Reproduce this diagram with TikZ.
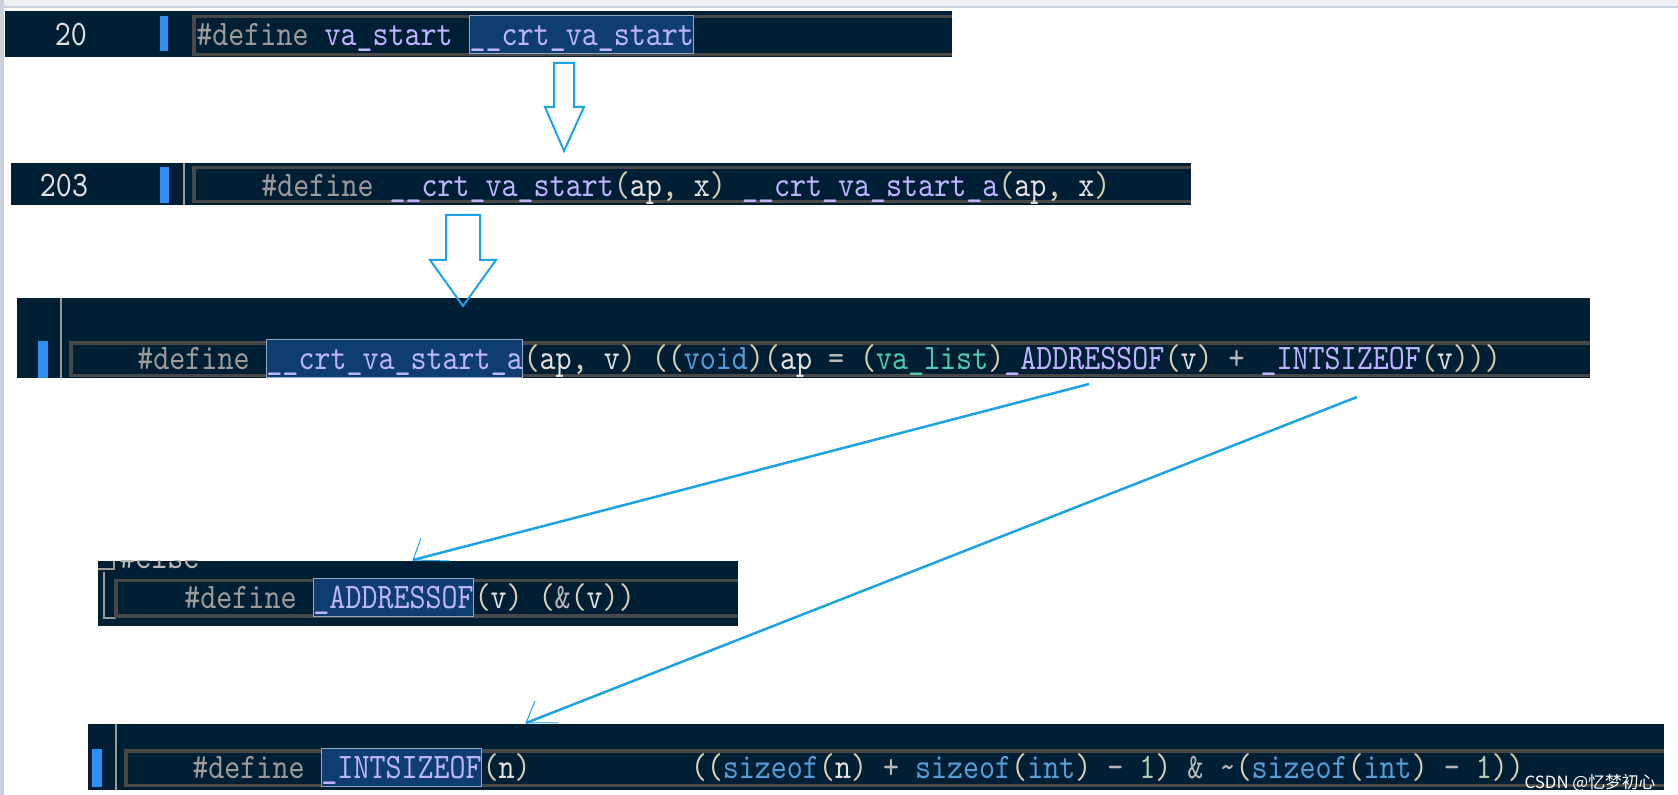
\documentclass[tikz,border=0pt]{standalone}
\usepackage{fontspec}
\newfontfamily\codefont[FakeStretch=0.85]{lmmono10-regular.otf}
\newfontfamily\cjk{Noto Sans CJK SC}
\definecolor{barbg}{HTML}{001F35}
\definecolor{framegray}{HTML}{484848}
\definecolor{vgray}{HTML}{9A9A9A}
\definecolor{markblue}{HTML}{2E8FF0}
\definecolor{hlfill}{HTML}{0F3D70}
\definecolor{hlborder}{HTML}{92A9C8}
\definecolor{defgray}{HTML}{9B9B9B}
\definecolor{macpurple}{HTML}{BDB5FF}
\definecolor{kwblue}{HTML}{569CD6}
\definecolor{typeteal}{HTML}{4EC9B0}
\definecolor{numgreen}{HTML}{B5CEA8}
\definecolor{punbeige}{HTML}{D6CFB4}
\definecolor{idwhite}{HTML}{E2E2E2}
\definecolor{opgray}{HTML}{B8B8B8}
\definecolor{linkblue}{HTML}{1BA3E6}
\definecolor{topband}{HTML}{EEF0F3}
\definecolor{topline}{HTML}{C9D1DE}
\newcommand\tokdef[1]{\textcolor{defgray}{#1}}
\newcommand\tokmac[1]{\textcolor{macpurple}{#1}}
\newcommand\tokkw[1]{\textcolor{kwblue}{#1}}
\newcommand\toktype[1]{\textcolor{typeteal}{#1}}
\newcommand\toknum[1]{\textcolor{numgreen}{#1}}
\newcommand\tokid[1]{\textcolor{idwhite}{#1}}
\newcommand\tokop[1]{\textcolor{opgray}{#1}}
\newcommand\codesize{\codefont\fontsize{17.95pt}{20pt}\selectfont\frenchspacing}
\newlength\chw
\begin{document}
\settowidth\chw{\codesize 0}
\begin{tikzpicture}
[x=0.5pt, y=-0.5pt,
bar/.style={fill=barbg},
frame/.style={draw=framegray, line width=1.75pt},
vline/.style={draw=vgray, line width=0.75pt},
marker/.style={fill=markblue},
code/.style={font=\codesize, text=punbeige, inner sep=0pt, anchor=base west},
hl/.style={code, fill=hlfill, draw=hlborder, line width=0.5pt, text height=15pt, text depth=4pt},
lnum/.style={font=\codesize, text=idwhite, inner sep=0pt, anchor=base},
hollow/.style={draw=linkblue, line width=1pt, line join=miter},
link/.style={draw=linkblue, line width=1.25pt},
hook/.style={draw=linkblue, line width=0.5pt}]

\useasboundingbox (0,0) rectangle (1678,795);
\fill[topband] (0,0) rectangle (1678,7);
\draw[topline, line width=1pt] (0,7) -- (1678,7);
\fill[topline] (0,0) rectangle (4,795);

% line 20
\fill[bar] (5,11) rectangle (952,57);
\draw[frame] (952,16.5) -- (194,16.5) -- (194,54.5) -- (952,54.5);
\fill[marker] (160,16) rectangle (168,51);
\node[lnum] (num20) at (71,46) {20};
\node[code] (pre20) at (196,46) {\tokdef{\#define} \tokmac{va\_start}};
\node[hl, anchor=base west] (hl20) at ([xshift=\chw]pre20.base east) {\tokmac{\_\_crt\_va\_start}};

% line 203
\fill[bar] (11,163) rectangle (1191,205);
\draw[vline] (184,163) -- (184,205);
\draw[frame] (1191,167.5) -- (194,167.5) -- (194,201.5) -- (1191,201.5);
\fill[marker] (160,167) rectangle (169,203);
\node[lnum] (num203) at (64,197) {203};
\node[code] (code203) at (261,197) {\tokdef{\#define} \tokmac{\_\_crt\_va\_start}(\tokid{ap}, \tokid{x}) \tokmac{\_\_crt\_va\_start\_a}(\tokid{ap}, \tokid{x})};

% va_start_a
\fill[bar] (17,298) rectangle (1590,378);
\draw[vline] (61,298) -- (61,378);
\draw[frame] (1590,343) -- (71,343) -- (71,375.5) -- (1590,375.5);
\fill[marker] (38,341) rectangle (48,378);
\node[code] (pre3) at (137,370) {\tokdef{\#define}};
\node[hl, anchor=base west] (hl3) at ([xshift=\chw]pre3.base east) {\tokmac{\_\_crt\_va\_start\_a}};
\node[code] (post3) at (hl3.base east) {(\tokid{ap}, \tokid{v}) ((\tokkw{void})(\tokid{ap} \tokop{=} (\toktype{va\_list})\tokmac{\_ADDRESSOF}(\tokid{v}) \tokop{+} \tokmac{\_INTSIZEOF}(\tokid{v})))};

% _ADDRESSOF
\fill[bar] (98,561) rectangle (738,626);
\begin{scope}
\clip (98,561) rectangle (738,626);
\node[code, text=opgray] (else4) at (119,569) {\#else};
\end{scope}
\draw[vline] (98,569) -- (114,569) -- (114,561);
\draw[vline] (104,572) -- (104,618) -- (116,618);
\draw[frame] (738,580.5) -- (116,580.5) -- (116,616) -- (738,616);
\node[code] (pre4) at (184,609) {\tokdef{\#define}};
\node[hl, anchor=base west] (hl4) at ([xshift=\chw]pre4.base east) {\tokmac{\_ADDRESSOF}};
\node[code] (post4) at (hl4.base east) {(\tokid{v}) (\tokop{\&}(\tokid{v}))};

% _INTSIZEOF
\fill[bar] (88,724) rectangle (1664,790);
\draw[vline] (116,724) -- (116,790);
\draw[frame] (1664,751) -- (126,751) -- (126,785.5) -- (1664,785.5);
\fill[marker] (92,749) rectangle (102,787);
\node[code] (pre5) at (192,779) {\tokdef{\#define}};
\node[hl, anchor=base west] (hl5) at ([xshift=\chw]pre5.base east) {\tokmac{\_INTSIZEOF}};
\node[code] (post5) at (hl5.base east) {(\tokid{n})\ \ \ \ \ \ \ \ \ \ ((\tokkw{sizeof}(\tokid{n}) \tokop{+} \tokkw{sizeof}(\tokkw{int}) \tokop{-} \toknum{1}) \tokop{\&} \tokop{\textasciitilde}(\tokkw{sizeof}(\tokkw{int}) \tokop{-} \toknum{1}))};
\node[font=\cjk\fontsize{8.4pt}{10pt}\selectfont, text=white, inner sep=0pt, anchor=base west] (mark) at ([yshift=-5pt]post5.base east) {CSDN @忆梦初心};

% block arrows
\coordinate (tip1) at (564,151);
\draw[hollow] (tip1) -- ++(-19,-44) -- ++(9,0) -- ++(0,-44) -- ++(20,0) -- ++(0,44) -- ++(10,0) -- cycle;
\coordinate (tip2) at (463,306);
\draw[hollow] (tip2) -- ++(-33,-46) -- ++(16,0) -- ++(0,-45) -- ++(34,0) -- ++(0,45) -- ++(16,0) -- cycle;

% links
\coordinate (from4) at (1089,384);
\coordinate (to4) at (413,560);
\draw[link] (from4) -- (to4);
\draw[hook] ([shift={(8,-22)}]to4) -- (to4) -- ++(36,1);
\coordinate (from5) at (1357,397);
\coordinate (to5) at (526,723);
\draw[link] (from5) -- (to5);
\draw[hook] ([shift={(9,-22)}]to5) -- (to5) -- ++(32,0);
\end{tikzpicture}
\end{document}
